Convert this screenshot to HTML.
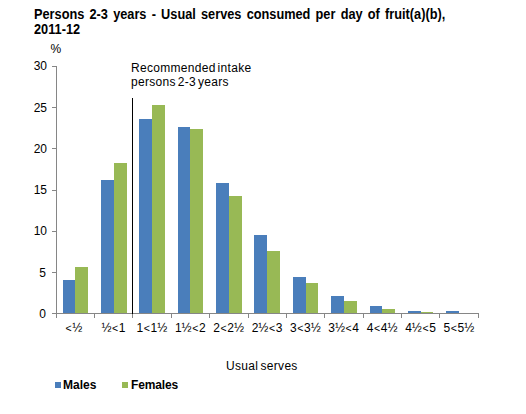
<!DOCTYPE html>
<html><head><meta charset="utf-8"><style>
html,body{margin:0;padding:0;background:#fff;width:526px;height:414px;overflow:hidden;position:relative;font-family:"Liberation Sans",sans-serif;color:#000}
svg{position:absolute;left:0;top:0}
.t{position:absolute;white-space:pre;line-height:1}
.title{left:33.6px;top:6.5px;font-size:14px;font-weight:bold;line-height:15px;word-spacing:1.85px;transform:scaleX(0.91);transform-origin:0 0}
.yl{position:absolute;left:0;width:47px;text-align:right;font-size:12px;line-height:14px}
.lt{font-size:10.5px;padding:0 0.6px}
.xl{position:absolute;top:321px;width:60px;text-align:center;font-size:12px;line-height:14px;white-space:pre}
</style></head><body>
<svg width="526" height="414" shape-rendering="crispEdges">
<rect x="63" y="280" width="12" height="33" fill="#4A7EBB"/><rect x="101" y="180" width="13" height="133" fill="#4A7EBB"/><rect x="139" y="119" width="13" height="194" fill="#4A7EBB"/><rect x="178" y="127" width="12" height="186" fill="#4A7EBB"/><rect x="216" y="183" width="13" height="130" fill="#4A7EBB"/><rect x="254" y="235" width="13" height="78" fill="#4A7EBB"/><rect x="293" y="277" width="13" height="36" fill="#4A7EBB"/><rect x="331" y="296" width="13" height="17" fill="#4A7EBB"/><rect x="370" y="306" width="12" height="7" fill="#4A7EBB"/><rect x="408" y="311" width="13" height="2" fill="#4A7EBB"/><rect x="446" y="311" width="13" height="2" fill="#4A7EBB"/><rect x="75" y="267" width="13" height="46" fill="#98B955"/><rect x="114" y="163" width="13" height="150" fill="#98B955"/><rect x="152" y="105" width="13" height="208" fill="#98B955"/><rect x="190" y="129" width="13" height="184" fill="#98B955"/><rect x="229" y="196" width="13" height="117" fill="#98B955"/><rect x="267" y="251" width="13" height="62" fill="#98B955"/><rect x="306" y="283" width="12" height="30" fill="#98B955"/><rect x="344" y="301" width="13" height="12" fill="#98B955"/><rect x="382" y="309" width="13" height="4" fill="#98B955"/><rect x="421" y="312" width="12" height="1" fill="#98B955"/>
<rect x="56" y="66" width="1" height="248" fill="#868686"/><rect x="52" y="313" width="5" height="1" fill="#868686"/><rect x="52" y="272" width="5" height="1" fill="#868686"/><rect x="52" y="231" width="5" height="1" fill="#868686"/><rect x="52" y="190" width="5" height="1" fill="#868686"/><rect x="52" y="148" width="5" height="1" fill="#868686"/><rect x="52" y="107" width="5" height="1" fill="#868686"/><rect x="52" y="66" width="5" height="1" fill="#868686"/><rect x="52" y="313" width="427" height="1" fill="#868686"/><rect x="56" y="313" width="1" height="5" fill="#868686"/><rect x="94" y="313" width="1" height="5" fill="#868686"/><rect x="132" y="313" width="1" height="5" fill="#868686"/><rect x="171" y="313" width="1" height="5" fill="#868686"/><rect x="209" y="313" width="1" height="5" fill="#868686"/><rect x="248" y="313" width="1" height="5" fill="#868686"/><rect x="286" y="313" width="1" height="5" fill="#868686"/><rect x="324" y="313" width="1" height="5" fill="#868686"/><rect x="363" y="313" width="1" height="5" fill="#868686"/><rect x="401" y="313" width="1" height="5" fill="#868686"/><rect x="439" y="313" width="1" height="5" fill="#868686"/><rect x="478" y="313" width="1" height="5" fill="#868686"/><rect x="132" y="98" width="1" height="216" fill="#000"/>
</svg>
<div class="t title">Persons 2-3 years - Usual serves consumed per day of fruit(a)(b),
2011-12</div>
<div class="t" style="left:50.5px;top:43px;font-size:12px">%</div>
<div class="yl" style="top:307px;width:46px">0</div><div class="yl" style="top:266px;width:46px">5</div><div class="yl" style="top:224px;width:47px">10</div><div class="yl" style="top:183px;width:47px">15</div><div class="yl" style="top:142px;width:47px">20</div><div class="yl" style="top:101px;width:47px">25</div><div class="yl" style="top:59px;width:47px">30</div>
<div class="t" style="left:131px;top:61px;font-size:12px;line-height:14px;letter-spacing:0.3px;word-spacing:-1.7px">Recommended intake
persons 2-3 years</div>
<div class="xl" style="left:43.7px"><span class=lt>&lt;</span>½</div><div class="xl" style="left:83.5px">½<span class=lt>&lt;</span>1</div><div class="xl" style="left:121.9px">1<span class=lt>&lt;</span>1½</div><div class="xl" style="left:160.3px">1½<span class=lt>&lt;</span>2</div><div class="xl" style="left:198.6px">2<span class=lt>&lt;</span>2½</div><div class="xl" style="left:237.0px">2½<span class=lt>&lt;</span>3</div><div class="xl" style="left:275.4px">3<span class=lt>&lt;</span>3½</div><div class="xl" style="left:313.7px">3½<span class=lt>&lt;</span>4</div><div class="xl" style="left:352.1px">4<span class=lt>&lt;</span>4½</div><div class="xl" style="left:390.5px">4½<span class=lt>&lt;</span>5</div><div class="xl" style="left:428.8px">5<span class=lt>&lt;</span>5½</div>
<div class="t" style="left:226px;top:360px;font-size:12px;letter-spacing:0.3px;word-spacing:-1.3px">Usual serves</div>
<div style="position:absolute;left:55px;top:382px;width:6px;height:6px;background:#4A7EBB"></div>
<div class="t" style="left:63px;top:379px;font-size:12px;font-weight:bold">Males</div>
<div style="position:absolute;left:122px;top:382px;width:6px;height:6px;background:#98B955"></div>
<div class="t" style="left:131px;top:379px;font-size:12px;font-weight:bold;letter-spacing:-0.15px">Females</div>
</body></html>
